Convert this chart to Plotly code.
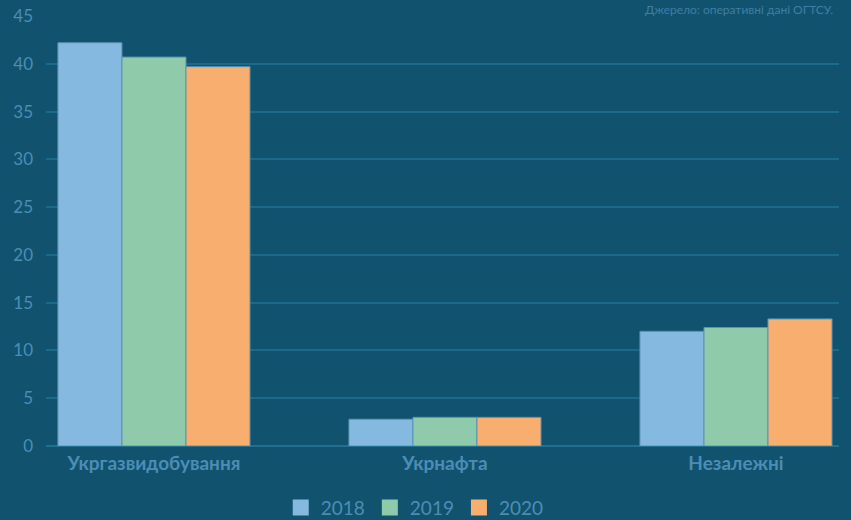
import plotly.graph_objects as go

categories = ["Укргазвидобування", "Укрнафта", "Незалежні"]
years = ["2018", "2019", "2020"]
values_2018 = [42.2, 2.8, 12.0]
values_2019 = [40.7, 3.0, 12.4]
values_2020 = [39.7, 3.0, 13.3]
series = [values_2018, values_2019, values_2020]
colors = ["#86b9e0", "#8fcbab", "#f7ae6e"]
y_ticks = [0, 5, 10, 15, 20, 25, 30, 35, 40, 45]

bg = "#11536e"
grid = "#1c6a8b"
txt = "#4c8db6"

fig = go.Figure()
for name, vals, col in zip(years, series, colors):
    fig.add_trace(go.Bar(
        x=categories, y=vals, name=name, showlegend=False,
        marker=dict(color=col, line=dict(color="#5b93b0", width=1)),
    ))
# legend entries with larger square swatches
for name, col in zip(years, colors):
    fig.add_trace(go.Scatter(
        x=[None], y=[None], mode="markers", name=name,
        marker=dict(symbol="square", size=18, color=col),
    ))

fig.update_layout(
    width=851, height=520,
    paper_bgcolor=bg, plot_bgcolor=bg,
    margin=dict(l=46, r=12, t=16, b=74, autoexpand=False),
    barmode="group", bargap=0.34, bargroupgap=0,
    font=dict(family="Lato", color=txt),
    showlegend=True,
    legend=dict(orientation="h", x=0.465, xanchor="center", y=-0.099, yanchor="top",
                font=dict(size=19, color=txt), itemwidth=30, traceorder="normal",
                bgcolor="rgba(0,0,0,0)"),
    xaxis=dict(range=[-0.371, 2.354], showgrid=False,
               tickfont=dict(size=19, color=txt, family="Lato", weight="bold"),
               showline=False, ticks="", ticklabelstandoff=4),
    yaxis=dict(range=[0, 45], tickvals=y_ticks, gridcolor=grid, gridwidth=2,
               tickfont=dict(size=17, color=txt), ticklabelstandoff=12,
               zeroline=True, zerolinecolor="#226f90", zerolinewidth=2, showline=False),
    annotations=[dict(text="Джерело: оперативні дані ОГТСУ.", xref="paper", yref="paper",
                      x=0.995, y=1 + 16 / 430, xanchor="right", yanchor="top", showarrow=False,
                      font=dict(size=12, color="#3f7ea3"))],
)

fig.write_html("out.html", config={"displayModeBar": False},
               post_script="document.body.style.margin='0';")
